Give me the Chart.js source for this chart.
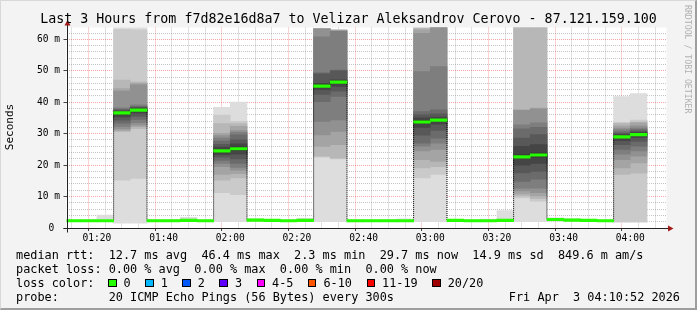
<!DOCTYPE html>
<html>
<head>
<meta charset="utf-8">
<script src="https://cdn.jsdelivr.net/npm/chart.js@4/dist/chart.umd.min.js"></script>
<style>
html,body{margin:0;padding:0;background:#f3f3f3;}
#wrap{position:relative;width:697px;height:310px;overflow:hidden;background:#f3f3f3;font-family:'DejaVu Sans Mono',monospace;color:#000;}
#c{position:absolute;left:0;top:0;}
.t{position:absolute;white-space:pre;}
#title{left:0;top:11px;width:697px;text-align:center;font-size:13.3px;line-height:16px;}
#ylab{left:-20px;top:120px;width:60px;height:14px;line-height:14px;text-align:center;font-size:11px;transform:rotate(-90deg);}
#wm{left:683px;top:5px;font-size:8.2px;writing-mode:vertical-rl;color:rgba(120,120,120,0.55);}
.leg{left:16px;font-size:11.85px;line-height:14px;}
#lossrow{position:absolute;left:108px;top:276px;height:14px;display:flex;align-items:center;font-size:11.85px;line-height:14px;}
.box{width:6.5px;height:6.5px;border:1px solid #000;margin-right:7px;flex:none;}
.lbl{margin-right:14.5px;white-space:pre;}
#frame{position:absolute;left:0;top:0;width:697px;height:310px;box-sizing:border-box;border-top:1px solid #d8d8d8;border-left:1px solid #d8d8d8;border-right:2px solid #9e9e9e;border-bottom:2px solid #9e9e9e;pointer-events:none;}
</style>
</head>
<body>
<div id="wrap">
<canvas id="c" width="697" height="310"></canvas>
<div id="title" class="t">Last 3 Hours from f7d82e16d8a7 to Velizar Aleksandrov Cerovo - 87.121.159.100</div>
<div id="ylab" class="t">Seconds</div>
<div id="wm" class="t">RRDTOOL / TOBI OETIKER</div>
<div class="t leg" style="top:248px">median rtt:  12.7 ms avg  46.4 ms max  2.3 ms min  29.7 ms now  14.9 ms sd  849.6 m am/s</div>
<div class="t leg" style="top:262px">packet loss: 0.00 % avg  0.00 % max  0.00 % min  0.00 % now</div>
<div class="t leg" style="top:276px">loss color:</div>
<div id="lossrow"></div>
<div class="t leg" style="top:290px">probe:       20 ICMP Echo Pings (56 Bytes) every 300s</div>
<div class="t leg" style="top:290px;left:auto;right:17px">Fri Apr  3 04:10:52 2026</div>
<div id="frame"></div>
</div>
<script>
// ---- data ----
const windowStart = '01:10:52';
const windowEnd = '04:10:52';
const timeTicks = ['01:20','01:40','02:00','02:20','02:40','03:00','03:20','03:40','04:00'];
const stepEnd = ['01:15','01:20','01:25','01:30','01:35','01:40','01:45','01:50','01:55','02:00','02:05','02:10','02:15','02:20','02:25','02:30','02:35','02:40','02:45','02:50','02:55','03:00','03:05','03:10','03:15','03:20','03:25','03:30','03:35','03:40','03:45','03:50','03:55','04:00','04:05'];
// median rtt per step, in ms
const medianRtt = [2.3,2.3,2.3,36.6,37.5,2.3,2.3,2.4,2.3,24.5,25.2,2.5,2.4,2.3,2.4,45.1,46.4,2.3,2.3,2.3,2.3,33.7,34.3,2.4,2.3,2.3,2.4,22.6,23.2,2.7,2.5,2.4,2.3,29.0,29.7];
// sorted ping samples per step, in ms (quiet steps: only lowest / highest)
const pingSamples = [
  [2.0,2.6],
  [2.0,2.6],
  [2.0,4.1],
  [1.5,15.2,30.6,31.0,31.5,32.3,33.3,34.3,35.3,36.3,36.9,37.2,37.5,37.8,38.2,43.5,44.3,47.0,63.2,70.0],
  [1.5,15.8,31.6,32.2,32.8,33.5,34.5,35.5,36.5,37.2,37.8,38.1,38.4,38.7,39.2,45.5,46.0,46.5,63.0,70.0],
  [2.0,2.6],
  [2.0,2.7],
  [2.0,3.4],
  [2.0,2.6],
  [2.0,11.2,15.2,17.0,19.5,20.5,21.5,22.5,23.3,24.1,24.9,25.7,26.6,27.6,28.6,29.4,30.1,33.2,35.9,38.4],
  [2.0,10.6,15.9,17.3,18.4,19.3,20.5,22.0,23.5,24.7,25.7,26.8,28.0,29.6,30.4,31.0,32.3,33.2,33.9,40.0],
  [2.1,3.0],
  [2.1,2.7],
  [2.0,2.6],
  [2.0,3.1],
  [2.0,22.5,22.8,25.9,29.6,33.9,40.2,42.5,44.0,44.8,45.6,46.0,49.0,49.3,60.8,63.3,63.3,63.4,63.4,63.5],
  [2.0,22.0,22.2,26.5,30.7,34.4,41.8,43.5,45.0,46.0,46.8,47.1,50.0,50.2,62.5,62.7,62.8,62.9,63.0,63.1],
  [1.9,2.6],
  [2.0,2.6],
  [2.0,2.7],
  [2.0,2.9],
  [2.0,15.9,19.1,21.7,24.5,26.0,27.0,29.5,32.0,33.4,34.2,35.0,36.0,37.0,49.7,61.9,63.0,63.5,64.0,65.0],
  [2.0,17.0,19.5,21.2,25.0,27.0,28.6,31.0,33.0,34.0,34.6,35.3,36.3,37.6,51.3,64.0,65.0,66.0,67.0,68.0],
  [2.0,2.6],
  [2.0,2.7],
  [2.0,2.8],
  [2.0,5.5],
  [2.0,9.6,10.2,10.8,11.8,12.7,14.8,17.5,20.0,22.2,23.3,26.0,28.6,31.5,32.8,37.4,37.6,66.0,68.0,70.0],
  [2.0,8.5,9.3,10.2,11.2,12.7,15.5,18.0,20.5,22.6,23.8,26.5,29.7,32.0,33.4,37.9,38.1,66.0,68.0,70.0],
  [2.2,3.2],
  [2.1,3.0],
  [2.0,2.7],
  [2.0,2.6],
  [1.8,2.0,17.0,19.1,21.7,23.5,25.0,26.5,27.8,28.7,29.3,29.7,30.1,30.6,31.2,31.8,32.5,33.3,33.6,41.8],
  [1.8,2.0,17.4,20.7,22.8,24.5,26.0,27.5,28.8,29.4,30.0,30.4,30.8,31.3,31.8,32.5,33.4,33.7,34.3,42.7]
];
const lossLabels = ['0','1','2','3','4-5','6-10','11-19','20/20'];
const lossColors = ['#26ff00','#00b8ff','#0059ff','#5e00ff','#ff00ff','#ff5500','#ff0000','#a00000'];

// ---- helpers ----
const toMin = s => { const p = s.split(':').map(Number); return p[0]*60 + p[1] + (p[2]||0)/60; };
const STEP = 5;
const centers = stepEnd.map(t => toMin(t) - STEP/2);
const smokeGray = k => { const g = (190/10*(10-k) + 50) | 0; const h = g.toString(16).padStart(2,'0'); return '#' + h + h + h; };
const fmtTime = v => { const r = Math.round(v); return String(Math.floor(r/60)).padStart(2,'0') + ':' + String(r%60).padStart(2,'0'); };
const tickLabel = v => { const s = fmtTime(v); return timeTicks.includes(s) ? s : ''; };
const isMajor = (c, every) => !!(c && c.tick && Math.round(c.tick.value) % every === 0);

// loss legend row
const row = document.getElementById('lossrow');
lossLabels.forEach((lab, i) => {
  const b = document.createElement('span'); b.className = 'box'; b.style.background = lossColors[i];
  const t = document.createElement('span'); t.className = 'lbl'; t.textContent = lab;
  row.append(b, t);
});

// ---- datasets ----
const datasets = [];
datasets.push({
  type: 'bar', label: 'median', order: 0,
  data: centers.map((x, i) => ({x, y: [medianRtt[i] - 0.4, medianRtt[i] + 0.4]})),
  backgroundColor: lossColors[0]
});
datasets.push({
  type: 'line', label: 'median step', order: 1,
  data: centers.map((x, i) => ({x, y: medianRtt[i]})),
  borderColor: '#000000', borderWidth: 1, borderDash: [1, 1], stepped: 'middle',
  pointRadius: 0, fill: false, clip: 0
});
for (let k = 10; k >= 1; k--) {
  const data = [];
  centers.forEach((x, i) => {
    const p = pingSamples[i]; const n = p.length;
    if (k <= n/2) data.push({x, y: [p[k-1], p[n-k]]});
  });
  datasets.push({ type: 'bar', label: 'smoke' + k, order: 12 - k, data, backgroundColor: smokeGray(k) });
}

const framePlugin = {
  id: 'frame',
  beforeDraw(chart) {
    const {ctx, chartArea: a} = chart;
    ctx.save(); ctx.fillStyle = '#ffffff';
    ctx.fillRect(a.left, a.top, a.right - a.left, a.bottom - a.top);
    ctx.restore();
  },
  afterDraw(chart) {
    const {ctx, chartArea: a} = chart;
    ctx.save();
    const x0 = Math.round(a.left) + 0.5, y0 = Math.round(a.bottom) + 0.5;
    ctx.strokeStyle = '#222'; ctx.lineWidth = 1;
    ctx.beginPath(); ctx.moveTo(x0, y0 + 4); ctx.lineTo(x0, a.top - 3); ctx.stroke();
    ctx.beginPath(); ctx.moveTo(x0 - 4, y0); ctx.lineTo(a.right + 2, y0); ctx.stroke();
    ctx.fillStyle = '#a01818';
    ctx.beginPath(); ctx.moveTo(x0, a.top - 7.5); ctx.lineTo(x0 - 3, a.top - 2); ctx.lineTo(x0 + 3, a.top - 2); ctx.closePath(); ctx.fill();
    ctx.beginPath(); ctx.moveTo(a.right + 7, y0); ctx.lineTo(a.right + 1.5, y0 - 3); ctx.lineTo(a.right + 1.5, y0 + 3); ctx.closePath(); ctx.fill();
    ctx.restore();
  }
};

const MAJOR_GRID = 'rgba(235,60,60,0.45)';
const MINOR_GRID = 'rgba(140,140,140,0.5)';

new Chart(document.getElementById('c'), {
  type: 'bar',
  data: { datasets },
  options: {
    responsive: false, animation: false, events: [],
    layout: { padding: { left: 0, top: 27.5, right: 30.5, bottom: 62 } },
    datasets: { bar: { grouped: false, barPercentage: 1, categoryPercentage: 1, borderWidth: 0, clip: 0 } },
    plugins: { legend: { display: false }, tooltip: { enabled: false }, title: { display: false } },
    scales: {
      x: {
        type: 'linear', min: toMin(windowStart), max: toMin(windowEnd), offset: false, z: 1,
        afterFit: s => { s.height = 20; },
        afterBuildTicks: s => {
          const out = [];
          for (let v = Math.ceil(s.min / STEP) * STEP; v <= s.max; v += STEP) out.push({ value: v });
          s.ticks = out;
        },
        ticks: { autoSkip: false, maxRotation: 0, minRotation: 0,
          callback: v => tickLabel(v), color: '#000', padding: 2,
          font: { family: 'DejaVu Sans Mono', size: 9.6 } },
        grid: { lineWidth: 1, tickLength: 3,
          color: c => (isMajor(c, 20) ? MAJOR_GRID : MINOR_GRID),
          tickColor: c => (isMajor(c, 20) ? '#444' : 'rgba(0,0,0,0)') },
        border: { display: false, dash: [1, 1] }
      },
      y: {
        type: 'linear', min: 0, max: 63.75, z: 1,
        afterFit: s => { s.width = 66.5; },
        ticks: { stepSize: 2, autoSkip: false, includeBounds: false, color: '#000', padding: 3.5,
          callback: v => { const r = Math.round(v); return r % 10 === 0 ? (r === 0 ? '0 ' : r + ' m') : ''; },
          font: { family: 'DejaVu Sans Mono', size: 9.6 } },
        grid: { lineWidth: 1, tickLength: 3,
          color: c => (isMajor(c, 10) ? MAJOR_GRID : MINOR_GRID),
          tickColor: c => (isMajor(c, 10) ? '#444' : 'rgba(0,0,0,0)') },
        border: { display: false, dash: [1, 1] }
      }
    }
  },
  plugins: [framePlugin]
});
</script>
</body>
</html>
